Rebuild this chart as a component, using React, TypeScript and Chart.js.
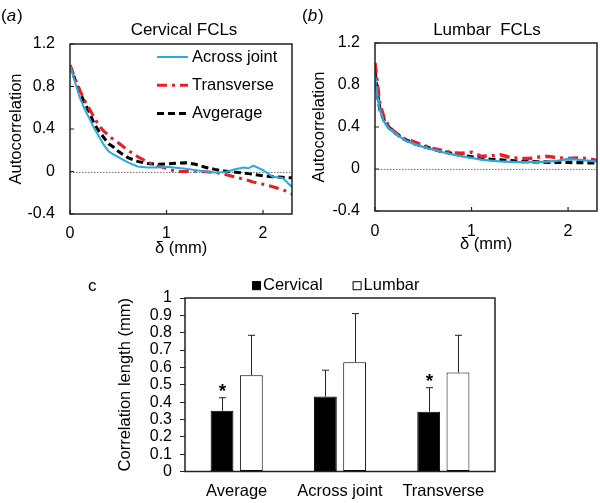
import React, { useEffect, useRef } from 'react';
import { Chart, registerables } from 'chart.js';

Chart.register(...registerables);

const FONT = '"Liberation Sans", Arial, Helvetica, sans-serif';
Chart.defaults.font.family = FONT;
Chart.defaults.color = '#000';

// ---------- Panel (a): Cervical FCLs ----------
const deltaA = [0, 0.05, 0.1, 0.15, 0.2, 0.25, 0.3, 0.35, 0.4, 0.45, 0.5, 0.6, 0.7, 0.8, 0.9, 1.0, 1.1, 1.2, 1.3, 1.4, 1.5, 1.6, 1.7, 1.8, 1.85, 1.9, 2.0, 2.1, 2.2, 2.3];
const cervAcross = [1.0, 0.85, 0.7, 0.59, 0.5, 0.41, 0.33, 0.25, 0.19, 0.16, 0.135, 0.085, 0.048, 0.037, 0.037, 0.045, 0.035, 0.025, 0.013, 0.0, -0.01, -0.008, 0.018, 0.038, 0.03, 0.055, 0.012, -0.05, -0.06, -0.145];
const cervTransverse = [1.0, 0.88, 0.77, 0.67, 0.59, 0.51, 0.43, 0.38, 0.34, 0.3, 0.27, 0.2, 0.14, 0.09, 0.055, 0.03, 0.0, 0.0, 0.005, -0.002, -0.008, -0.025, -0.05, -0.072, -0.085, -0.1, -0.12, -0.143, -0.17, -0.21];
const cervAverage = [1.0, 0.87, 0.75, 0.65, 0.56, 0.45, 0.38, 0.32, 0.26, 0.23, 0.19, 0.13, 0.095, 0.075, 0.068, 0.07, 0.078, 0.082, 0.068, 0.04, 0.02, 0.004, -0.005, -0.015, -0.02, -0.027, -0.04, -0.05, -0.055, -0.06];

// ---------- Panel (b): Lumbar FCLs ----------
const deltaB = [0, 0.02, 0.05, 0.1, 0.15, 0.2, 0.3, 0.4, 0.5, 0.6, 0.7, 0.8, 0.9, 1.0, 1.1, 1.2, 1.3, 1.4, 1.5, 1.6, 1.7, 1.8, 1.9, 2.0, 2.1, 2.2, 2.3];
const lumbAcross = [0.9, 0.72, 0.56, 0.44, 0.385, 0.345, 0.28, 0.24, 0.21, 0.185, 0.16, 0.14, 0.12, 0.105, 0.09, 0.08, 0.072, 0.068, 0.066, 0.066, 0.068, 0.07, 0.08, 0.095, 0.09, 0.08, 0.07];
const lumbTransverse = [1.01, 0.85, 0.62, 0.47, 0.4, 0.355, 0.29, 0.26, 0.225, 0.195, 0.175, 0.155, 0.15, 0.16, 0.12, 0.125, 0.135, 0.11, 0.1, 0.1, 0.115, 0.12, 0.105, 0.1, 0.105, 0.1, 0.08];
const lumbAverage = [0.93, 0.75, 0.57, 0.45, 0.39, 0.35, 0.285, 0.245, 0.215, 0.19, 0.165, 0.148, 0.13, 0.115, 0.1, 0.09, 0.085, 0.078, 0.072, 0.07, 0.068, 0.065, 0.064, 0.063, 0.062, 0.06, 0.058];

// ---------- Panel c: correlation length ----------
const groups = ['Average', 'Across joint', 'Transverse'];
const cervicalLength = [0.35, 0.432, 0.345];
const cervicalSD = [0.075, 0.152, 0.138];
const lumbarLength = [0.555, 0.63, 0.57];
const lumbarSD = [0.23, 0.28, 0.215];
const cervicalSig = ['*', '', '*'];
const lumbarSig = ['', '', ''];

const seriesNames = ['Across joint', 'Transverse', 'Avgerage'];

// ---------- styles ----------
const lineStyles = [
  { color: '#2aa8df', width: 2, dash: [] as number[] },
  { color: '#ee1c25', width: 3, dash: [10, 5, 3, 5] },
  { color: '#000000', width: 3, dash: [7, 4] },
];
const FRAME = '#222222';

const fmt = (v: number) => String(Math.round(v * 10) / 10);

function lineDatasets(xs: number[], series: number[][], scale: number) {
  return series.map((ys, i) => ({
    label: seriesNames[i],
    data: xs.map((x, j) => ({ x, y: ys[j] })),
    borderColor: lineStyles[i].color,
    borderWidth: lineStyles[i].width * scale,
    borderDash: lineStyles[i].dash,
    pointRadius: 0,
  }));
}

function drawPanelLabel(ctx: CanvasRenderingContext2D, letter: string, x: number, y: number, size: number) {
  ctx.fillStyle = '#000';
  ctx.textBaseline = 'middle';
  ctx.textAlign = 'left';
  ctx.font = `${size}px ${FONT}`;
  ctx.fillText('(', x, y);
  let cx = x + ctx.measureText('(').width;
  ctx.font = `italic ${size}px ${FONT}`;
  ctx.fillText(letter, cx, y);
  cx += ctx.measureText(letter).width + 1;
  ctx.font = `${size}px ${FONT}`;
  ctx.fillText(')', cx, y);
}

function linePanelPlugin(letter: string, title: string, titleX: number, withLegend: boolean) {
  return {
    id: 'linePanel' + letter,
    beforeDatasetsDraw(chart: any) {
      const { ctx, chartArea: a, scales } = chart;
      const y = Math.round(scales.y.getPixelForValue(0)) + 0.5;
      ctx.save();
      ctx.strokeStyle = '#777';
      ctx.lineWidth = 1;
      ctx.setLineDash([1.5, 1.5]);
      ctx.beginPath();
      ctx.moveTo(a.left, y);
      ctx.lineTo(a.right, y);
      ctx.stroke();
      ctx.restore();
    },
    afterDraw(chart: any) {
      const { ctx, chartArea: a, scales } = chart;
      ctx.save();
      ctx.setLineDash([]);
      ctx.strokeStyle = FRAME;
      ctx.lineWidth = 1.5;
      ctx.strokeRect(a.left, a.top, a.right - a.left, a.bottom - a.top);
      ctx.lineWidth = 1.2;
      ctx.beginPath();
      scales.y.ticks.forEach((t: any) => {
        const y = scales.y.getPixelForValue(t.value);
        ctx.moveTo(a.left, y);
        ctx.lineTo(a.left + 4, y);
      });
      scales.x.ticks.forEach((t: any) => {
        const x = scales.x.getPixelForValue(t.value);
        ctx.moveTo(x, a.bottom);
        ctx.lineTo(x, a.bottom - 4);
      });
      ctx.stroke();
      drawPanelLabel(ctx, letter, letter === 'a' ? 1 : 2, 16, 17);
      ctx.fillStyle = '#000';
      ctx.textAlign = 'center';
      ctx.textBaseline = 'middle';
      ctx.font = `17px ${FONT}`;
      ctx.fillText(title, titleX, 30);
      if (withLegend) {
        chart.data.datasets.forEach((ds: any, i: number) => {
          const y = 57 + i * 28.3;
          ctx.strokeStyle = ds.borderColor;
          ctx.lineWidth = ds.borderWidth;
          ctx.setLineDash(ds.borderDash || []);
          ctx.beginPath();
          ctx.moveTo(157, y);
          ctx.lineTo(188, y);
          ctx.stroke();
          ctx.setLineDash([]);
          ctx.fillStyle = '#000';
          ctx.font = `16.5px ${FONT}`;
          ctx.textAlign = 'left';
          ctx.fillText(ds.label, 192, y);
        });
      }
      ctx.restore();
    },
  };
}

const errSets = [cervicalSD, lumbarSD];
const sigSets = [cervicalSig, lumbarSig];

const barPanelPlugin = {
  id: 'barPanel',
  afterDatasetsDraw(chart: any) {
    const { ctx, scales } = chart;
    ctx.save();
    chart.data.datasets.forEach((ds: any, i: number) => {
      const meta = chart.getDatasetMeta(i);
      meta.data.forEach((bar: any, j: number) => {
        const v = ds.data[j];
        const top = scales.y.getPixelForValue(v + errSets[i][j]);
        const x = Math.round(bar.x) + 0.5;
        ctx.strokeStyle = '#222';
        ctx.lineWidth = 1;
        ctx.beginPath();
        ctx.moveTo(x, bar.y);
        ctx.lineTo(x, top);
        ctx.moveTo(x - 3.5, top);
        ctx.lineTo(x + 3.5, top);
        ctx.stroke();
        const s = sigSets[i][j];
        if (s) {
          ctx.fillStyle = '#000';
          ctx.font = `bold 19px ${FONT}`;
          ctx.textAlign = 'center';
          ctx.textBaseline = 'alphabetic';
          ctx.fillText(s, x, top - 1);
        }
      });
    });
    ctx.restore();
  },
  afterDraw(chart: any) {
    const { ctx, chartArea: a } = chart;
    ctx.save();
    ctx.strokeStyle = FRAME;
    ctx.lineWidth = 1.5;
    ctx.strokeRect(a.left, a.top, a.right - a.left, a.bottom - a.top);
    ctx.fillStyle = '#000';
    ctx.font = `17px ${FONT}`;
    ctx.textAlign = 'left';
    ctx.textBaseline = 'middle';
    ctx.fillText('c', 88, 24);
    let x = 252;
    const y = 23.7;
    ctx.font = `16.5px ${FONT}`;
    ctx.lineWidth = 1;
    chart.data.datasets.forEach((ds: any) => {
      ctx.fillStyle = ds.backgroundColor;
      ctx.fillRect(x, y - 4.5, 8.5, 8.5);
      ctx.strokeStyle = '#000';
      ctx.strokeRect(x + 0.5, y - 4, 8, 8);
      ctx.fillStyle = '#000';
      ctx.fillText(ds.label, x + 11, y);
      x += 11 + ctx.measureText(ds.label).width + 30;
    });
    ctx.restore();
  },
};

function lineOptions(pad: any, xHeight: number, yWidth: number, xTitlePad: number, yTitlePad: number, xTickPad: number) {
  return {
    animation: false,
    responsive: false,
    devicePixelRatio: 1,
    layout: { padding: pad },
    plugins: { legend: { display: false } },
    scales: {
      x: {
        type: 'linear',
        min: 0,
        max: 2.3,
        ticks: { stepSize: 1, includeBounds: false, padding: xTickPad, font: { size: 16 }, callback: (v: any) => fmt(Number(v)) },
        grid: { display: false, drawTicks: false },
        border: { display: false },
        title: { display: true, text: 'δ (mm)', font: { size: 16.5 }, padding: { top: 0, bottom: xTitlePad } },
        afterFit: (s: any) => { s.height = xHeight; },
      },
      y: {
        min: -0.4,
        max: 1.2,
        ticks: { stepSize: 0.4, padding: 15, font: { size: 16 }, callback: (v: any) => fmt(Number(v)) },
        grid: { display: false, drawTicks: false },
        border: { display: false },
        title: { display: true, text: 'Autocorrelation', font: { size: 16.5 }, padding: { top: yTitlePad, bottom: 0 } },
        afterFit: (s: any) => { s.width = yWidth; },
      },
    },
  };
}

export default function App() {
  const aRef = useRef<HTMLCanvasElement>(null);
  const bRef = useRef<HTMLCanvasElement>(null);
  const cRef = useRef<HTMLCanvasElement>(null);

  useEffect(() => {
    const chartA = new Chart(aRef.current!, {
      type: 'line',
      data: { datasets: lineDatasets(deltaA, [cervAcross, cervTransverse, cervAverage], 1) },
      options: lineOptions({ left: 0, top: 44, right: 8, bottom: 0 }, 48, 70, 3.4, 6.4, 10),
      plugins: [linePanelPlugin('a', 'Cervical FCLs', 184, true)],
    } as any);
    const chartB = new Chart(bRef.current!, {
      type: 'line',
      data: { datasets: lineDatasets(deltaB, [lumbAcross, lumbTransverse, lumbAverage], 1.15) },
      options: lineOptions({ left: 0, top: 43, right: 3, bottom: 0 }, 51, 75, 7.9, 9.4, 11),
      plugins: [linePanelPlugin('b', 'Lumbar  FCLs', 187, false)],
    } as any);
    const chartC = new Chart(cRef.current!, {
      type: 'bar',
      data: {
        labels: groups,
        datasets: [
          { label: 'Cervical', data: cervicalLength, backgroundColor: '#000000', borderColor: '#000000', borderWidth: 1, borderSkipped: false },
          { label: 'Lumbar', data: lumbarLength, backgroundColor: '#ffffff', borderColor: '#000000', borderWidth: 1, borderSkipped: false },
        ],
      },
      options: {
        animation: false,
        responsive: false,
        devicePixelRatio: 1,
        layout: { padding: { left: 0, top: 36, right: 105, bottom: 0 } },
        datasets: { bar: { barPercentage: 0.78, categoryPercentage: 0.567 } },
        plugins: { legend: { display: false } },
        scales: {
          x: {
            ticks: { padding: 10.5, font: { size: 16.5 } },
            grid: { display: false, drawTicks: false },
            border: { display: false },
            afterFit: (s: any) => { s.height = 31.5; },
          },
          y: {
            min: 0,
            max: 1,
            ticks: { stepSize: 0.1, autoSkip: false, padding: 8, font: { size: 16 }, callback: (v: any) => fmt(Number(v)) },
            grid: { drawOnChartArea: false, drawTicks: true, tickLength: 5, color: FRAME },
            border: { display: false },
            title: { display: true, text: 'Correlation length (mm)', font: { size: 16.5 }, padding: { top: 115.4, bottom: 0 } },
            afterFit: (s: any) => { s.width = 185; },
          },
        },
      },
      plugins: [barPanelPlugin],
    } as any);
    return () => {
      chartA.destroy();
      chartB.destroy();
      chartC.destroy();
    };
  }, []);

  return (
    <div style={{ position: 'fixed', left: 0, top: 0, width: 600, height: 503, background: '#fff', overflow: 'hidden' }}>
      <canvas ref={aRef} width={300} height={262} style={{ position: 'absolute', left: 0, top: 0, width: 300, height: 262 }} />
      <canvas ref={bRef} width={300} height={262} style={{ position: 'absolute', left: 300, top: 0, width: 300, height: 262 }} />
      <canvas ref={cRef} width={600} height={241} style={{ position: 'absolute', left: 0, top: 262, width: 600, height: 241 }} />
    </div>
  );
}
